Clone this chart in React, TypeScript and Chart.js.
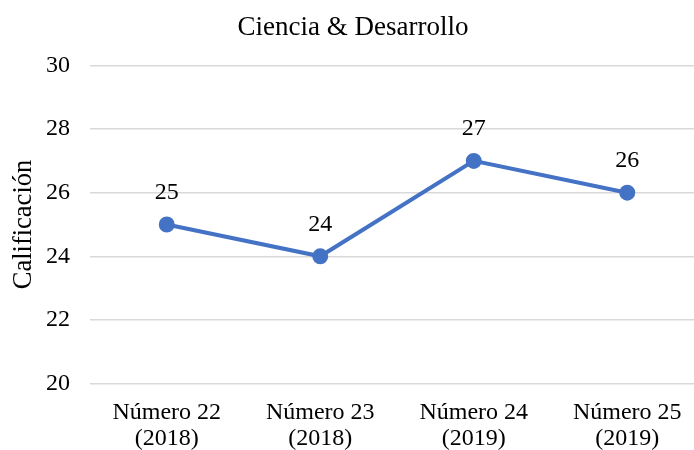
import React, { useEffect, useRef } from "react";
import { Chart, registerables } from "chart.js";

Chart.register(...registerables);

const categories: string[][] = [
  ["Número 22", "(2018)"],
  ["Número 23", "(2018)"],
  ["Número 24", "(2019)"],
  ["Número 25", "(2019)"],
];
const scores: number[] = [25, 24, 27, 26];
const yTicks = { min: 20, max: 30, step: 2 };
const chartTitle = "Ciencia & Desarrollo";
const yTitle = "Calificación";

const FONT = "'Liberation Serif', 'Times New Roman', serif";

const labelPlugin = {
  id: "pointLabels",
  afterDatasetsDraw(chart: any) {
    const ctx = chart.ctx;
    const meta = chart.getDatasetMeta(0);
    ctx.save();
    ctx.font = `24px ${FONT}`;
    ctx.fillStyle = "#000";
    ctx.textAlign = "center";
    ctx.textBaseline = "middle";
    meta.data.forEach((pt: any, i: number) => {
      ctx.fillText(String(scores[i]), pt.x, pt.y - 32);
    });
    ctx.restore();
  },
};

export default function App() {
  const ref = useRef<HTMLCanvasElement>(null);
  useEffect(() => {
    if (!ref.current) return;
    const chart = new Chart(ref.current, {
      type: "line",
      data: {
        labels: categories,
        datasets: [
          {
            data: scores,
            borderColor: "#4472C4",
            backgroundColor: "#4472C4",
            borderWidth: 4,
            pointRadius: 6,
            pointHoverRadius: 6,
            pointBackgroundColor: "#4472C4",
            pointBorderColor: "#4472C4",
            tension: 0,
          },
        ],
      },
      options: {
        animation: false,
        responsive: false,
        devicePixelRatio: 1,
        layout: { padding: { left: 0, right: 8, top: 0, bottom: 0 } },
        plugins: {
          legend: { display: false },
          tooltip: { enabled: false },
          title: {
            display: true,
            text: chartTitle,
            color: "#000",
            font: { family: FONT, size: 27, weight: "normal", lineHeight: 1.2 },
            padding: { top: 11.8, bottom: 21.3 },
          },
        },
        scales: {
          x: {
            type: "category",
            offset: true,
            grid: { display: false, drawTicks: false },
            border: { display: false },
            ticks: {
              color: "#000",
              padding: 17,
              maxRotation: 0,
              autoSkip: false,
              font: { family: FONT, size: 24, lineHeight: 1.05 },
            },
            afterFit(scale: any) {
              scale.height = 66.5;
            },
          },
          y: {
            min: yTicks.min,
            max: yTicks.max,
            ticks: {
              stepSize: yTicks.step,
              color: "#000",
              padding: 20,
              font: { family: FONT, size: 24 },
            },
            grid: { color: "#d9d9d9", lineWidth: 1.5, drawTicks: false },
            border: { display: false },
            title: {
              display: true,
              text: yTitle,
              color: "#000",
              font: { family: FONT, size: 26.5, lineHeight: 1.2 },
              padding: { top: 8, bottom: 0 },
            },
            afterFit(scale: any) {
              scale.width = 90;
            },
          },
        },
      },
      plugins: [labelPlugin],
    });
    return () => chart.destroy();
  }, []);
  return (
    <div
      style={{
        position: "fixed",
        left: 0,
        top: 0,
        width: 694,
        height: 450,
        overflow: "hidden",
        background: "#fff",
      }}
    >
      <canvas ref={ref} width={714} height={450} style={{ display: "block", width: 714, height: 450 }} />
    </div>
  );
}
